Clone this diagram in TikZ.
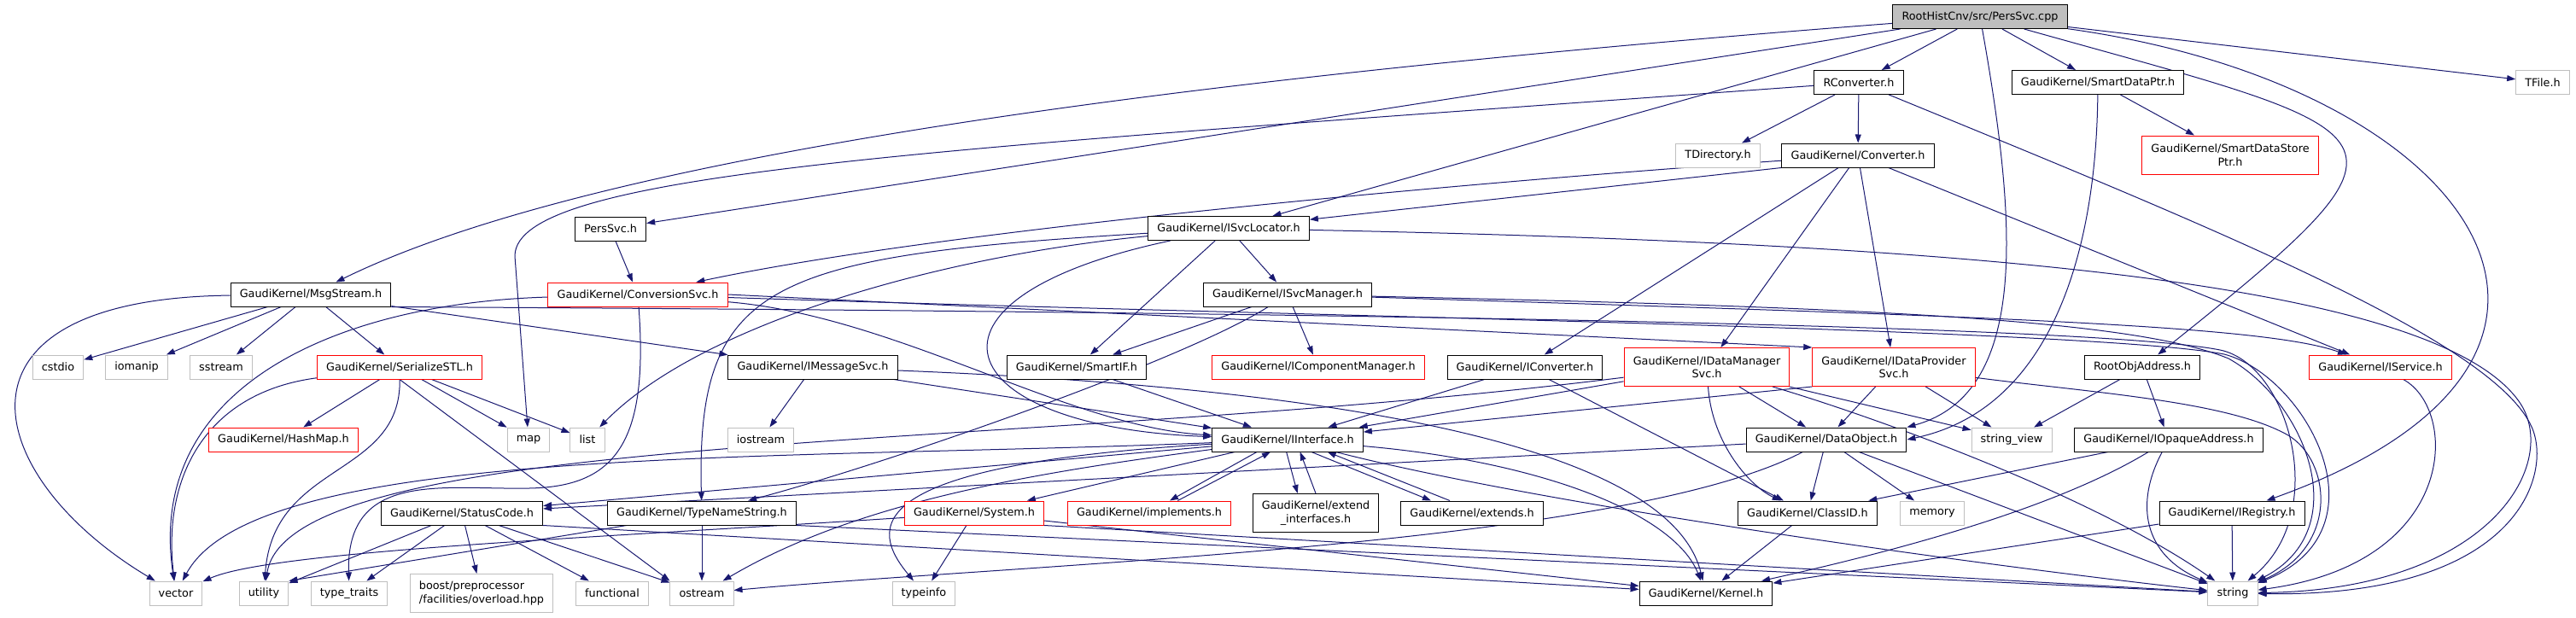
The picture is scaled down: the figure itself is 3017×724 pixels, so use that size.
\documentclass[tikz,border=0pt]{standalone}
\usepackage{fontspec}
\setmainfont{DejaVu Sans}
\usetikzlibrary{arrows.meta,backgrounds}
\definecolor{edgeblue}{HTML}{191970}
\definecolor{extgray}{HTML}{BFBFBF}
\definecolor{truncred}{HTML}{FF0000}
\definecolor{rootfill}{HTML}{BFBFBF}
\begin{document}
\begin{tikzpicture}
[x=0.75pt,y=-0.75pt,
  nodebox/.style={shape=rectangle,draw,line width=0.75pt,fill=white,inner xsep=8pt,inner ysep=0pt,
    minimum height=21pt,align=center,font=\fontsize{9.6}{11.5}\selectfont},
  gknode/.style={nodebox,draw=black},
  truncnode/.style={nodebox,draw=truncred},
  extnode/.style={nodebox,draw=extgray},
  rootnode/.style={nodebox,draw=black,fill=rootfill},
  twoline/.style={minimum height=33.75pt},
  gknodetwo/.style={gknode,twoline},
  truncnodetwo/.style={truncnode,twoline},
  extnodetwoleft/.style={extnode,twoline,align=left},
  edgeline/.style={draw=edgeblue,line width=0.75pt,-{Triangle[length=7.5pt,width=5.25pt]}}]
\useasboundingbox (0,0) rectangle (3017,724);
%% boxes
\foreach \nodename/\x/\y/\kind/\nodetext in {
  cpp/2319/19.5/rootnode/{RootHistCnv/src/PersSvc.cpp},
  rconv/2177/96.5/gknode/{RConverter.h},
  sdptr/2457/96.5/gknode/{GaudiKernel/SmartDataPtr.h},
  tfile/2978/96.5/extnode/{TFile.h},
  tdir/2012/182/extnode/{TDirectory.h},
  conv/2176/182/gknode/{GaudiKernel/Converter.h},
  sdsptr/2612/181.5/truncnodetwo/{GaudiKernel/SmartDataStore\\Ptr.h},
  perssvch/715/268/gknode/{PersSvc.h},
  svcloc/1439/267.5/gknode/{GaudiKernel/ISvcLocator.h},
  msgstr/364/345/gknode/{GaudiKernel/MsgStream.h},
  convsvc/747/345/truncnode/{GaudiKernel/ConversionSvc.h},
  svcmgr/1508/345/gknode/{GaudiKernel/ISvcManager.h},
  cstdio/68/430/extnode/{cstdio},
  iomanip/160/430/extnode/{iomanip},
  sstream/259/430/extnode/{sstream},
  serial/468/430/truncnode/{GaudiKernel/SerializeSTL.h},
  imsg/952/430/gknode/{GaudiKernel/IMessageSvc.h},
  smartif/1261/430/gknode/{GaudiKernel/SmartIF.h},
  icompmgr/1544/430/truncnode/{GaudiKernel/IComponentManager.h},
  iconv/1786/430/gknode/{GaudiKernel/IConverter.h},
  idatamgr/1999/430/truncnodetwo/{GaudiKernel/IDataManager\\Svc.h},
  idataprov/2218/430/truncnodetwo/{GaudiKernel/IDataProvider\\Svc.h},
  rootobj/2509/430/gknode/{RootObjAddress.h},
  iservice/2788/430/truncnode/{GaudiKernel/IService.h},
  hashmap/332/515/truncnode/{GaudiKernel/HashMap.h},
  map/619/515/extnode/{map},
  list/688/515/extnode/{list},
  iostream/891/515/extnode/{iostream},
  iiface/1508/515/gknode/{GaudiKernel/IInterface.h},
  dataobj/2139/515/gknode/{GaudiKernel/DataObject.h},
  strview/2356/515/extnode/{string\_view},
  iopaque/2540/515/gknode/{GaudiKernel/IOpaqueAddress.h},
  statcode/541/601/gknode/{GaudiKernel/StatusCode.h},
  typename/822/601/gknode/{GaudiKernel/TypeNameString.h},
  system/1141/601/truncnode/{GaudiKernel/System.h},
  implements/1346/601/truncnode/{GaudiKernel/implements.h},
  extendif/1541/601/gknodetwo/{GaudiKernel/extend\\\_interfaces.h},
  extends/1724/601/gknode/{GaudiKernel/extends.h},
  classid/2117/601/gknode/{GaudiKernel/ClassID.h},
  memory/2263/601/extnode/{memory},
  iregistry/2614/601/gknode/{GaudiKernel/IRegistry.h},
  vector/206/695/extnode/{vector},
  utility/309/695/extnode/{utility},
  typetraits/409/695/extnode/{type\_traits},
  boost/564/695/extnodetwoleft/{boost/preprocessor\\/facilities/overload.hpp},
  functional/717/695/extnode/{functional},
  ostream/822/695/extnode/{ostream},
  typeinfo/1082/695/extnode/{typeinfo},
  kernel/1998/695/gknode/{GaudiKernel/Kernel.h},
  string/2615/695/extnode/{string}} {
  \node[\kind] (\nodename) at (\x,\y) {\nodetext};
}
\begin{pgfonlayer}{background}
%% includes, straight
\foreach \startnode/\endnode in {cpp/perssvch, cpp/svcloc, cpp/rconv, cpp/sdptr,
  cpp/tfile, rconv/tdir, rconv/conv, sdptr/sdsptr, conv.south west/svcloc,
  conv/iconv, conv/idatamgr, conv/idataprov, conv/iservice, perssvch/convsvc,
  svcloc/smartif, svcloc/svcmgr, msgstr/cstdio, msgstr/iomanip, msgstr/sstream,
  msgstr/serial, msgstr/imsg, convsvc.east/idataprov.north west, svcmgr/smartif,
  svcmgr/icompmgr, serial/hashmap, serial/map, serial/list,
  serial.south/ostream.north west, imsg/iostream, imsg/iiface, smartif/iiface,
  iconv/iiface, iconv/classid, idatamgr/iiface, idatamgr/dataobj,
  idatamgr/strview, idataprov.south west/iiface, idataprov/dataobj,
  idataprov/strview, rootobj/strview, rootobj/iopaque, iiface/statcode,
  iiface/system, dataobj/statcode, dataobj/classid, dataobj/memory,
  dataobj/string, iopaque/classid, statcode/utility, statcode/typetraits,
  statcode/boost, statcode/functional, statcode/ostream,
  statcode.south east/kernel, typename/ostream, typename/utility.north east,
  typename.south east/string, system/typeinfo, system/kernel,
  system.south east/string, classid/kernel, iregistry/kernel, iregistry/string} {
  \draw[edgeline] (\startnode) -- (\endnode);
}
%% includes, curved
\draw[edgeline] (cpp) .. controls (1400,90) and (700,180) .. (msgstr);
\draw[edgeline] (cpp) .. controls (2360,250) and (2380,460) .. (dataobj.north east);
\draw[edgeline] (cpp) .. controls (2820,160) and (2860,150) .. (rootobj);
\draw[edgeline] (cpp) .. controls (2900,100) and (3120,420) .. (iregistry);
\draw[edgeline] (rconv) .. controls (1100,175) and (603,200) .. (603,300) -- (map);
\draw[edgeline] (rconv) .. controls (2600,270) and (2920,400) .. (2965,500)
  .. controls (2990,555) and (2950,700) .. (string);
\draw[edgeline] (sdptr) .. controls (2455,300) and (2400,480) .. (dataobj.east);
\draw[edgeline] (conv) .. controls (1700,215) and (1100,270) .. (convsvc);
\draw[edgeline] (svcloc) .. controls (1100,300) and (820,380) .. (list);
\draw[edgeline] (svcloc) .. controls (900,300) and (815,330) .. (typename);
\draw[edgeline] (svcloc) .. controls (1050,350) and (1110,500) .. (iiface);
\draw[edgeline] (svcloc) .. controls (2300,285) and (2850,330) .. (2950,470)
  .. controls (3000,540) and (2920,690) .. (string);
\draw[edgeline] (msgstr) .. controls (-80,350) and (-20,560) .. (vector);
\draw[edgeline] (msgstr.south east) .. controls (1500,365) and (2450,380) .. (2600,410)
  .. controls (2680,426) and (2730,600) .. (string);
\draw[edgeline] (convsvc) .. controls (400,355) and (170,450) .. (vector);
\draw[edgeline] (convsvc) .. controls (760,520) and (720,570) .. (620,572)
  .. controls (520,574) and (405,550) .. (typetraits);
\draw[edgeline] (convsvc) .. controls (1050,370) and (1250,500) .. (iiface);
\draw[edgeline] (convsvc) .. controls (1500,370) and (2450,385) .. (2605,415)
  .. controls (2700,440) and (2800,620) .. (string);
\draw[edgeline] (svcmgr) .. controls (1390,420) and (1050,540) .. (typename);
\draw[edgeline] (svcmgr) .. controls (2300,370) and (2650,380) .. (iservice);
\draw[edgeline] (svcmgr) .. controls (2200,360) and (2500,375) .. (2610,420)
  .. controls (2700,470) and (2760,620) .. (string);
\draw[edgeline] (serial) .. controls (240,460) and (190,560) .. (vector);
\draw[edgeline] (serial) .. controls (470,560) and (320,540) .. (utility);
\draw[edgeline] (imsg) .. controls (1450,450) and (1950,500) .. (kernel);
\draw[edgeline] (idatamgr) .. controls (2005,520) and (2050,570) .. (classid);
\draw[edgeline] (idatamgr) .. controls (2200,490) and (2450,580) .. (string);
\draw[edgeline] (idatamgr) .. controls (1200,530) and (340,500) .. (utility);
\draw[edgeline] (idataprov) .. controls (2450,460) and (2610,470) .. (2680,510)
  .. controls (2730,540) and (2740,640) .. (string);
\draw[edgeline] (iservice) .. controls (2880,480) and (2880,660) .. (string);
\draw[edgeline] (iiface) .. controls (900,540) and (300,520) .. (vector);
\draw[edgeline] (iiface) .. controls (1000,545) and (1020,620) .. (typeinfo);
\draw[edgeline] (iiface) .. controls (1200,555) and (1000,590) .. (ostream);
\draw[edgeline] (iiface) .. controls (1800,540) and (1960,600) .. (kernel);
\draw[edgeline] (iiface) .. controls (1800,590) and (2300,660) .. (string);
\draw[edgeline] (dataobj) .. controls (1900,640) and (1200,660) .. (ostream);
\draw[edgeline] (iopaque) .. controls (2400,600) and (2200,650) .. (kernel);
\draw[edgeline] (iopaque) .. controls (2500,590) and (2510,650) .. (string);
\draw[edgeline] (system) .. controls (700,630) and (320,645) .. (vector);
%% includes both ways
\draw[edgeline] ([xshift=-27pt]iiface.south) -- ([xshift=18pt]implements.north);
\draw[edgeline] ([xshift=25pt]implements.north) -- ([xshift=-15pt]iiface.south);
\draw[edgeline] ([xshift=-1pt]iiface.south) -- ([xshift=-16pt]extendif.north);
\draw[edgeline] (extendif.north) -- ([xshift=11pt]iiface.south);
\draw[edgeline] ([xshift=21pt]iiface.south) -- ([xshift=-36pt]extends.north);
\draw[edgeline] ([xshift=-19.5pt]extends.north) -- ([xshift=35pt]iiface.south);
\end{pgfonlayer}
\end{tikzpicture}
\end{document}
